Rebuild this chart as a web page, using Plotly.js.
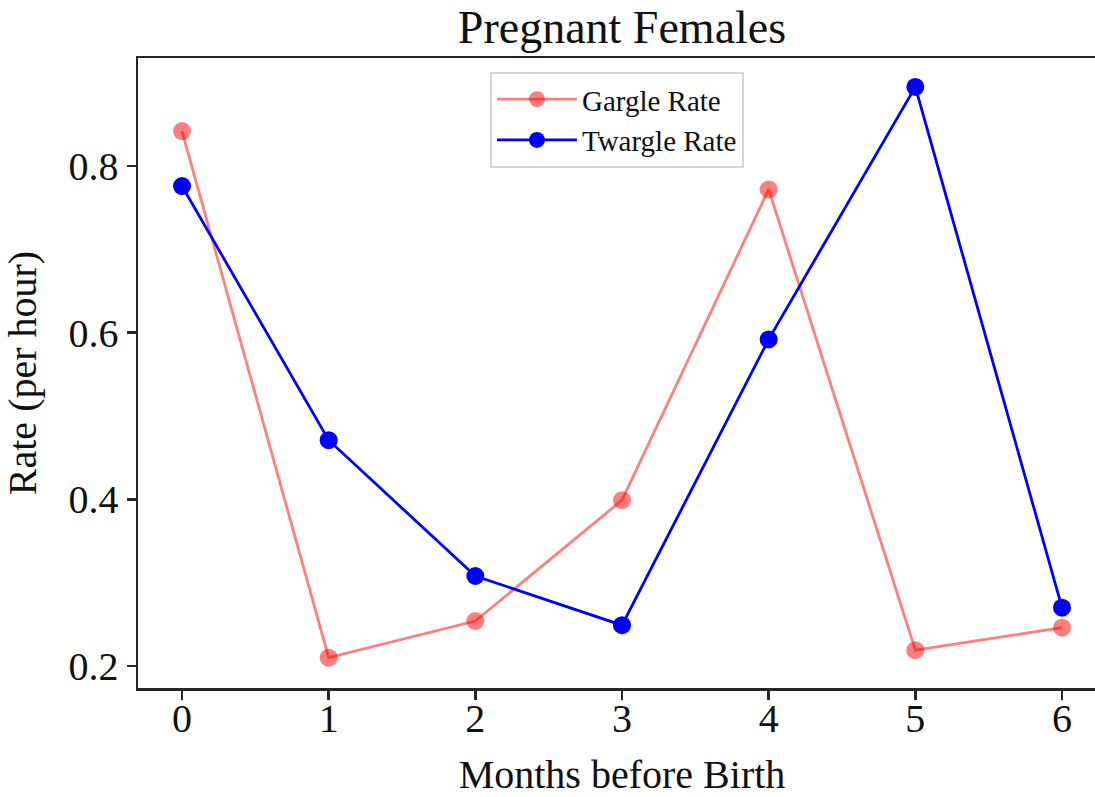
<!DOCTYPE html>
<html>
<head>
<meta charset="utf-8">
<script src="https://cdn.plot.ly/plotly-3.0.1.min.js"></script>
<style>
html,body{margin:0;padding:0;overflow:hidden;background:#fff;}
#chart{width:1110px;height:797px;}
</style>
</head>
<body>
<div id="chart"></div>
<script>
const months = [0, 1, 2, 3, 4, 5, 6];
const gargleRate = [0.842, 0.210, 0.254, 0.399, 0.772, 0.219, 0.246];
const twargleRate = [0.776, 0.471, 0.308, 0.249, 0.592, 0.895, 0.270];
const xTickVals = [0, 1, 2, 3, 4, 5, 6];
const yTickVals = [0.2, 0.4, 0.6, 0.8];
const yTickText = ['0.2', '0.4', '0.6', '0.8'];

const FONT = 'Liberation Serif, Times New Roman, serif';

const traces = [
  {
    x: months, y: gargleRate, name: 'Gargle Rate', type: 'scatter', mode: 'lines+markers',
    line: {color: 'rgba(255,0,0,0.5)', width: 2.8},
    marker: {color: 'rgba(255,0,0,0.5)', size: 18}
  },
  {
    x: months, y: twargleRate, name: 'Twargle Rate', type: 'scatter', mode: 'lines+markers',
    line: {color: 'rgb(0,0,255)', width: 2.8},
    marker: {color: 'rgb(0,0,255)', size: 18}
  }
];

const axisCommon = {
  showline: true, linecolor: '#262626', linewidth: 2.5, mirror: true,
  ticks: 'outside', tickcolor: '#262626', tickwidth: 2.5, ticklen: 9,
  showgrid: false, zeroline: false,
  tickfont: {family: FONT, size: 40, color: '#111'}
};

const layout = {
  width: 1110, height: 797,
  margin: {l: 138, r: 4, t: 58, b: 109},
  paper_bgcolor: '#fff', plot_bgcolor: '#fff',
  font: {family: FONT, color: '#111'},
  title: {text: 'Pregnant Females', font: {family: FONT, size: 46, color: '#111'},
          xref: 'paper', x: 0.5, xanchor: 'center', yref: 'container', y: 0.966, yanchor: 'middle'},
  xaxis: Object.assign({}, axisCommon, {
    range: [-0.3, 6.3], tickvals: xTickVals, ticklabelstandoff: -16,
    title: {text: 'Months before Birth', font: {family: FONT, size: 40, color: '#111'}, standoff: 24}
  }),
  yaxis: Object.assign({}, axisCommon, {
    range: [0.1736, 0.9297], tickvals: yTickVals, ticktext: yTickText,
    title: {text: 'Rate (per hour)', font: {family: FONT, size: 40, color: '#111'}, standoff: 20}
  }),
  showlegend: true,
  legend: {
    x: 0.3636, y: 0.978, xanchor: 'left', yanchor: 'top',
    bgcolor: 'rgba(255,255,255,0.8)', bordercolor: '#d6d6d6', borderwidth: 2,
    itemwidth: 80,
    font: {family: FONT, size: 29, color: '#111'}
  }
};

Plotly.newPlot('chart', traces, layout, {displayModeBar: false, staticPlot: true});
</script>
</body>
</html>
